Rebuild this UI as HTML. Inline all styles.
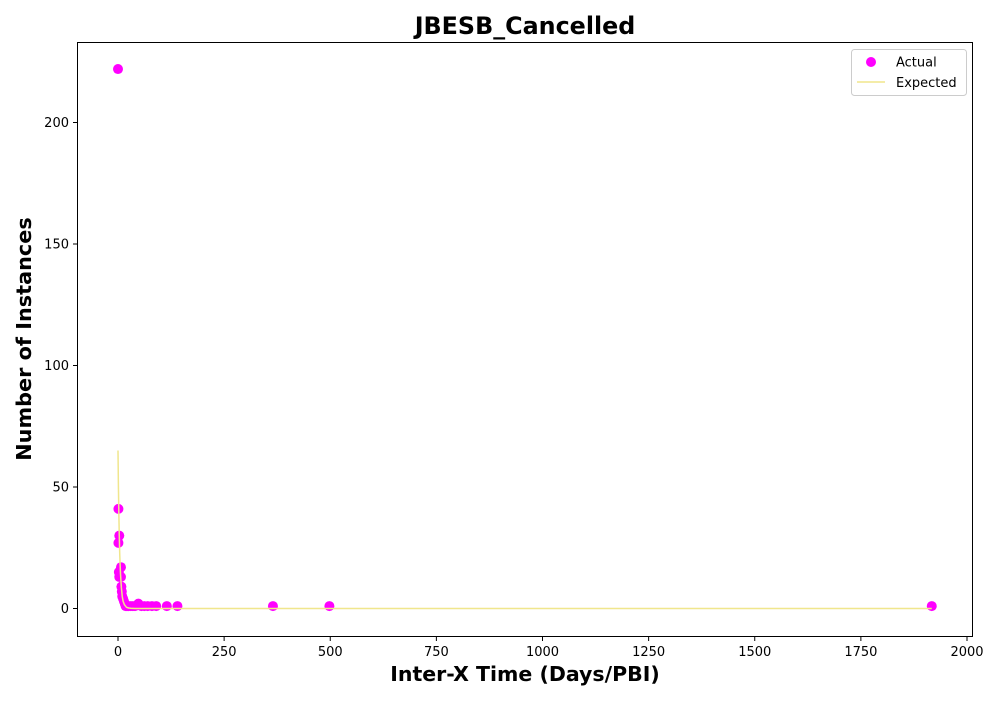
<!DOCTYPE html>
<html><head><meta charset="utf-8"><style>
body{margin:0;background:#fff;font-family:"DejaVu Sans","Liberation Sans",sans-serif}
</style></head><body>
<svg id="chart" width="1000" height="700" xmlns="http://www.w3.org/2000/svg" font-family="DejaVu Sans, Liberation Sans, sans-serif">
<rect width="1000" height="700" fill="#fff"/>
<text x="525" y="34" text-anchor="middle" font-size="23.8" font-weight="bold">JBESB_Cancelled</text>
<text x="525" y="681" text-anchor="middle" font-size="20.5" font-weight="bold">Inter-X Time (Days/PBI)</text>
<text transform="translate(31,339) rotate(-90)" text-anchor="middle" font-size="20.8" font-weight="bold">Number of Instances</text>
<g id="ticks"></g>
<g id="marks"></g>
<rect x="77.5" y="42.5" width="895" height="594" fill="none" stroke="#000" stroke-width="1"/>
<g>
<rect x="851.5" y="49.5" width="115" height="46" rx="3" fill="#fff" stroke="#ccc"/>
<circle cx="871" cy="62" r="5" fill="#ff00ff"/>
<text x="896" y="66.5" font-size="13">Actual</text>
<line x1="857" y1="82" x2="885" y2="82" stroke="#f0e68c" stroke-width="1.5"/>
<text x="896" y="87" font-size="13">Expected</text>
</g>
</svg>
<script>
const actualX=[0,1,1,3,2,3,7,7,8,9,10,12,14,16,18,20,25,30,35,40,48,55,62,70,80,90,115,140,365,498,1917];
const actualY=[222,41,27,30,15,13,17,13,9,7,5,4,3,2,1,1,1,1,1,1,2,1,1,1,1,1,1,1,1,1,1];
const expX=[0,1,2,3,4,5,6,8,10,12,15,20,25,30,40,60,100,500,1917];
const expY=[65,50,39,30,23,18,14,8.5,5,3,1.6,0.5,0.2,0.1,0,0,0,0,0];
const xTicks=[0,250,500,750,1000,1250,1500,1750,2000];
const yTicks=[0,50,100,150,200];
const sx=v=>118+v*(967-118)/2000;
const sy=v=>608.5-v*(608.5-122.5)/200;
const NS="http://www.w3.org/2000/svg";
const tk=document.getElementById('ticks'),mk=document.getElementById('marks');
function mkEl(t,a,p){const e=document.createElementNS(NS,t);for(const k in a)e.setAttribute(k,a[k]);p.appendChild(e);return e;}
xTicks.forEach(v=>{
 const l=mkEl('line',{x1:sx(v),x2:sx(v),y1:636.5,y2:641,stroke:'#000'},tk);
 
 
 const t=mkEl('text',{x:sx(v),y:656,'text-anchor':'middle','font-size':13},tk);t.textContent=v;
 
 
});
yTicks.forEach(v=>{
 const l=mkEl('line',{x1:73,x2:77.5,y1:sy(v),y2:sy(v),stroke:'#000'},tk);
 
 
 const t=mkEl('text',{x:69,y:sy(v)+4.5,'text-anchor':'end','font-size':13},tk);t.textContent=v;
 
 
});
actualX.forEach((x,i)=>{
 const c=mkEl('circle',{cx:sx(x),cy:sy(actualY[i]),r:5,fill:'#ff00ff'},mk);
 
 
});
const p=mkEl('polyline',{points:expX.map((x,i)=>sx(x)+','+sy(expY[i])).join(' '),fill:'none',stroke:'#f0e68c','stroke-width':1.5},mk);


</script>
</body></html>
